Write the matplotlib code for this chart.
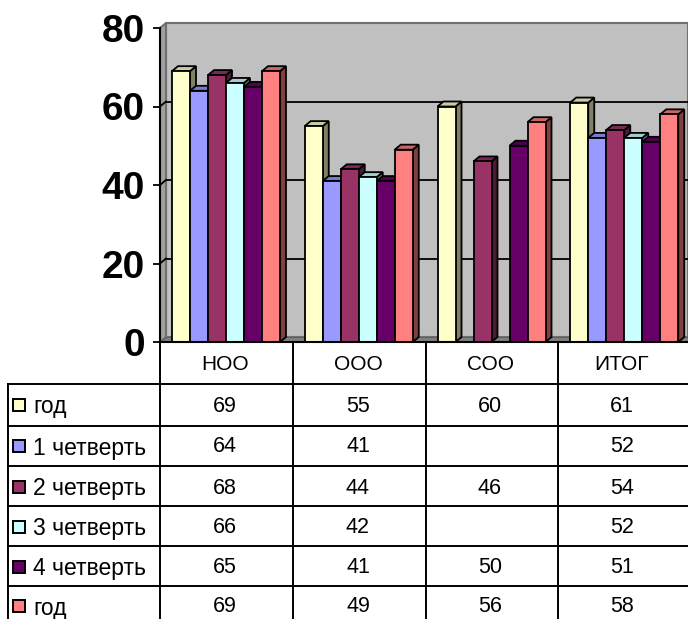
import numpy as np
import matplotlib
matplotlib.use('Agg')
import matplotlib.pyplot as plt
from matplotlib.patches import Rectangle
from matplotlib.colors import to_rgb

plt.rcParams['font.family'] = ['Liberation Sans', 'DejaVu Sans']

# Data
categories = ['НОО', 'ООО', 'СОО', 'ИТОГ']
series_names = ['год', '1 четверть', '2 четверть', '3 четверть', '4 четверть', 'год']
series_values = [
    [69, 55, 60, 61],
    [64, 41, None, 52],
    [68, 44, 46, 54],
    [66, 42, None, 52],
    [65, 41, 50, 51],
    [69, 49, 56, 58],
]
colors = ['#FFFFCC', '#9999FF', '#993366', '#CCFFFF', '#660066', '#FF8080']
yticks = [0, 20, 40, 60, 80]

W, H = 688, 619
fig = plt.figure(figsize=(W / 100, H / 100), dpi=100)

# Chart axes, placed in pixels
left, right, y0, y80 = 160, 688, 342, 28
top = 20
px_y = (y0 - y80) / 80
cat_w = 132.75
ax = fig.add_axes([left / W, 1 - y0 / H, (right - left) / W, (y0 - top) / H])
ax.set_xlim(0, (right - left) / cat_w)
ax.set_ylim(0, (y0 - top) / px_y)

dx = 6 / cat_w   # depth of the 3d effect
dy = 5 / px_y
bar_w = 18 / cat_w
bar_start = 12 / cat_w
lw = 1.3
xmax = ax.get_xlim()[1]
wall_top = 80


def shade(c, f):
    return tuple(v * f for v in to_rgb(c))


# back wall, side wall and floor
ax.fill([dx, xmax, xmax, dx], [dy, dy, wall_top + dy, wall_top + dy],
        fc='#C0C0C0', ec='#707070', lw=1.5, zorder=1)
ax.fill([0, dx, dx, 0], [0, dy, wall_top + dy, wall_top], fc='#A0A0A0', ec='#707070', lw=1.5, zorder=1)
ax.fill([0, xmax, xmax, dx], [0, 0, dy, dy], fc='#808080', ec='#606060', lw=0.8, zorder=1)
for v in yticks[1:-1]:
    ax.plot([dx, xmax], [v + dy, v + dy], color='black', lw=lw, zorder=2)
    ax.plot([0, dx], [v, v + dy], color='black', lw=lw, zorder=2)

# bars
z = 3
for c in range(len(categories)):
    for s, vals in enumerate(series_values):
        v = vals[c]
        if v is None:
            continue
        x = c + bar_start + s * bar_w
        col = colors[s]
        ax.fill([x + bar_w, x + bar_w + dx, x + bar_w + dx, x + bar_w],
                [0, dy, v + dy, v], fc=shade(col, 0.5), ec='black', lw=lw, zorder=z)
        ax.fill([x, x + dx, x + bar_w + dx, x + bar_w],
                [v, v + dy, v + dy, v], fc=shade(col, 0.8), ec='black', lw=lw, zorder=z)
        ax.bar(x, v, bar_w, align='edge', color=col, edgecolor='black', lw=lw, zorder=z)
        z += 1

for name in ['top', 'right']:
    ax.spines[name].set_visible(False)
ax.spines['left'].set_bounds(0, 80)
ax.spines['left'].set_linewidth(1.5)
ax.spines['bottom'].set_linewidth(1.5)
ax.spines['left'].set_zorder(50)
ax.spines['bottom'].set_zorder(50)
ax.set_xticks([])
ax.set_yticks(yticks)
ax.tick_params(axis='y', length=5, width=1.3, pad=6)
for t in ax.get_yticklabels():
    t.set_fontsize(28)
    t.set_fontweight('bold')

# Data table underneath, in pixel coordinates
tb = fig.add_axes([0, 0, 1, 1], facecolor='none')
tb.set_xlim(0, W)
tb.set_ylim(H, 0)
tb.axis('off')

col_x = [160, 292.5, 425.5, 558]
row_y = [384, 425.5, 466, 506, 546, 586]
row_c = [405, 446, 487, 526.5, 566.5, 606]
col_c = [225, 358, 490, 622]
header_c = 363

for y in row_y:
    tb.plot([8, W], [y, y], color='black', lw=1.4)
tb.plot([8, 8], [row_y[0], H], color='black', lw=1.4)
for x in col_x:
    tb.plot([x, x], [y0, H], color='black', lw=1.4)

for c, name in enumerate(categories):
    tb.text(col_c[c], header_c + 1, name, ha='center', va='center', fontsize=15)

for s, vals in enumerate(series_values):
    tb.add_patch(Rectangle((13, row_c[s] - 6), 12, 12, fc=colors[s], ec='black', lw=1.4))
    tb.text(33, row_c[s] + 2, series_names[s], ha='left', va='center', fontsize=16.5)
    for c, v in enumerate(vals):
        if v is not None:
            tb.text(col_c[c], row_c[s] + 1, str(v), ha='center', va='center', fontsize=15.5)

fig.savefig('out.png', dpi=100)
